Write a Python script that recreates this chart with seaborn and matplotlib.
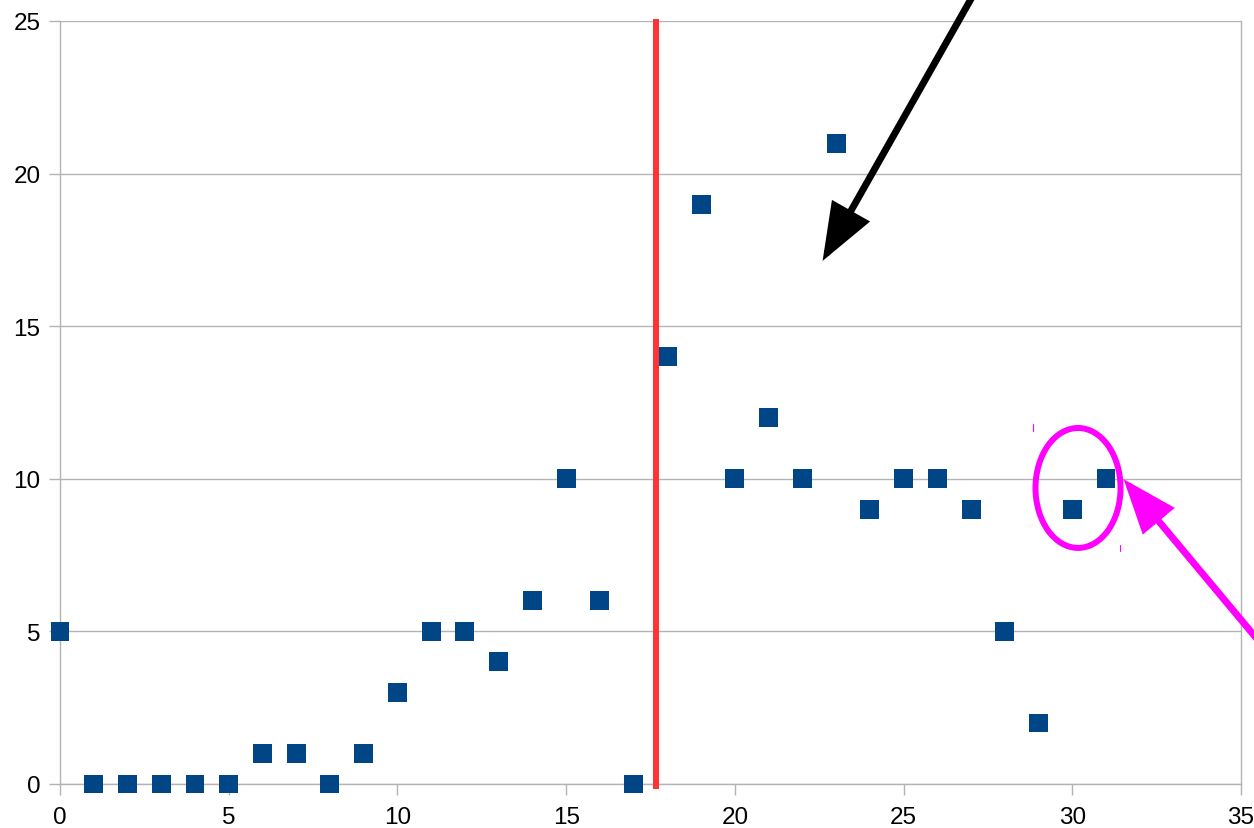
import matplotlib
matplotlib.use("Agg")
import matplotlib.pyplot as plt
import seaborn as sns
import pandas as pd
from matplotlib.patches import Ellipse

# data
x_vals = list(range(32))
y_vals = [5, 0, 0, 0, 0, 0, 1, 1, 0, 1, 3, 5, 5, 4, 6, 10, 6, 0,
          14, 19, 10, 12, 10, 21, 9, 10, 10, 9, 5, 2, 9, 10]
x_ticks = [0, 5, 10, 15, 20, 25, 30, 35]
y_ticks = [0, 5, 10, 15, 20, 25]
split_x = 17.65

df = pd.DataFrame({'x': x_vals, 'y': y_vals})

sns.set_theme(style="white")
plt.rcParams['font.family'] = ['Liberation Sans', 'DejaVu Sans']

fig = plt.figure(figsize=(12.54, 8.29), dpi=100)
ax = fig.add_axes([60 / 1254, 44 / 829, 1181 / 1254, 763 / 829])

grid_col = '#b3b3b3'
sns.scatterplot(data=df, x='x', y='y', marker='s', s=185, color='#004586',
                edgecolor='none', ax=ax, clip_on=False, zorder=3)

ax.set_xlim(0, 35)
ax.set_ylim(0, 25)
ax.set_xticks(x_ticks)
ax.set_yticks(y_ticks)
ax.set_xlabel('')
ax.set_ylabel('')
ax.yaxis.grid(True, color=grid_col, lw=1)
ax.xaxis.grid(False)
ax.tick_params(axis='both', labelsize=17.5, colors=grid_col, labelcolor='black',
               length=8, width=1)
ax.tick_params(axis='x', pad=8, bottom=True)
ax.tick_params(axis='y', pad=6, left=True)
for side in ['left', 'right', 'bottom']:
    ax.spines[side].set_color(grid_col)
    ax.spines[side].set_linewidth(1)
ax.spines['top'].set_visible(False)

# red vertical divider
ax.plot([split_x, split_x], [-0.16, 25.07], color='#ff3333', lw=4.3,
        clip_on=False, zorder=4, solid_capstyle='butt')

# black arrow from the top edge
ax.annotate('', xy=(22.60, 17.14), xytext=(27.14, 26.0),
            arrowprops=dict(arrowstyle='-|>,head_length=1.0,head_width=0.38',
                            mutation_scale=32, lw=5, color='black',
                            shrinkA=0, shrinkB=0, joinstyle='miter'),
            annotation_clip=False, zorder=5)

# magenta ellipse and arrow
ax.add_patch(Ellipse((30.17, 9.70), 2.52, 3.93, fill=False,
                     edgecolor='#ff00ff', lw=4.3, zorder=5, clip_on=False))
ax.annotate('', xy=(31.52, 9.99), xytext=(35.9, 4.19),
            arrowprops=dict(arrowstyle='-|>,head_length=1.0,head_width=0.38',
                            mutation_scale=30, lw=5, color='#ff00ff',
                            shrinkA=0, shrinkB=0, joinstyle='miter'),
            annotation_clip=False, zorder=5)
ax.plot([28.84, 28.84], [11.57, 11.80], color='#ff00ff', lw=0.8, zorder=5)
ax.plot([31.42, 31.42], [7.63, 7.83], color='#ff00ff', lw=0.8, zorder=5)

fig.savefig('out.png', dpi=100)
